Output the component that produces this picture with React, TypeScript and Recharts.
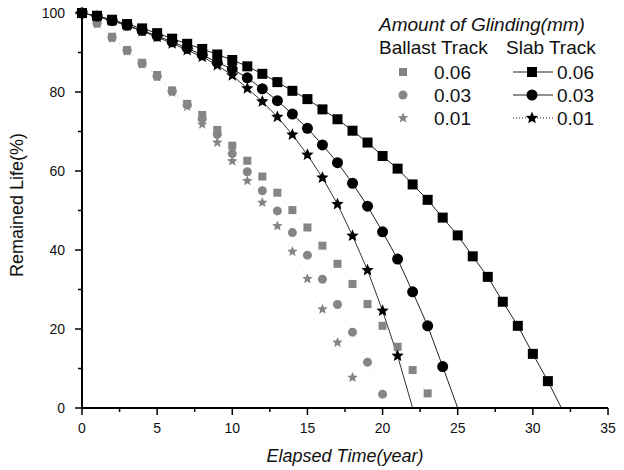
import { LineChart, Line, XAxis, YAxis } from "recharts";

// elapsed years (x) for each series
const slabYears06 = [0, 1, 2, 3, 4, 5, 6, 7, 8, 9, 10, 11, 12, 13, 14, 15, 16, 17, 18, 19, 20, 21, 22, 23, 24, 25, 26, 27, 28, 29, 30, 31];
const slabYears03 = [0, 1, 2, 3, 4, 5, 6, 7, 8, 9, 10, 11, 12, 13, 14, 15, 16, 17, 18, 19, 20, 21, 22, 23, 24];
const slabYears01 = [0, 1, 2, 3, 4, 5, 6, 7, 8, 9, 10, 11, 12, 13, 14, 15, 16, 17, 18, 19, 20, 21];
const ballastYears06 = [1, 2, 3, 4, 5, 6, 7, 8, 9, 10, 11, 12, 13, 14, 15, 16, 17, 18, 19, 20, 21, 22, 23];
const ballastYears03 = [1, 2, 3, 4, 5, 6, 7, 8, 9, 10, 11, 12, 13, 14, 15, 16, 17, 18, 19, 20];
const ballastYears01 = [1, 2, 3, 4, 5, 6, 7, 8, 9, 10, 11, 12, 13, 14, 15, 16, 17, 18];

// remained life (%)
const slab06 = [100, 99.3, 98.3, 97.2, 96.1, 94.9, 93.5, 92.2, 90.9, 89.5, 88.1, 86.5, 84.6, 82.5, 80.3, 78.2, 75.6, 73.1, 70.2, 67.2, 63.8, 60.6, 56.6, 52.7, 48.2, 43.7, 38.4, 33.2, 26.9, 20.8, 13.7, 6.8];
const slab03 = [100, 99.2, 98.1, 96.9, 95.6, 94.2, 92.7, 91.1, 89.4, 87.5, 85.8, 83.6, 80.8, 77.8, 74.4, 70.8, 66.6, 62.1, 56.9, 51.1, 44.6, 37.7, 29.4, 20.8, 10.5];
const slab01 = [100, 99.1, 98.0, 96.8, 95.4, 93.9, 92.3, 90.6, 88.9, 86.8, 84.2, 80.9, 77.6, 73.7, 69.2, 64.1, 58.3, 51.6, 43.6, 34.9, 24.6, 13.2];
const ballast06 = [97.6, 94.0, 90.6, 87.4, 84.3, 80.4, 77.0, 74.2, 70.4, 66.4, 62.6, 58.6, 54.5, 50.1, 45.7, 41.1, 36.5, 31.4, 26.3, 20.8, 15.5, 9.6, 3.7];
const ballast03 = [97.4, 93.8, 90.5, 87.2, 84.0, 80.2, 76.8, 73.2, 69.3, 64.4, 59.8, 55.0, 49.9, 44.4, 38.7, 32.6, 26.2, 19.2, 11.6, 3.5];
const ballast01 = [97.2, 93.6, 90.3, 87.0, 83.8, 79.9, 76.3, 71.8, 67.2, 62.5, 57.5, 52.0, 46.1, 39.6, 32.7, 25.0, 16.6, 7.7];

// where the slab fitted lines reach zero
const slabEnd06 = 31.9;
const slabEnd03 = 25.0;
const slabEnd01 = 22.0;

const xTicks = [0, 2.5, 5, 7.5, 10, 12.5, 15, 17.5, 20, 22.5, 25, 27.5, 30, 32.5, 35];
const yTicks = [0, 10, 20, 30, 40, 50, 60, 70, 80, 90, 100];

const FONT = '"Liberation Sans", Arial, Helvetica, sans-serif';

const toPoints = (xs: number[], ys: number[], end?: number) => {
  const pts: any[] = xs.map((x, i) => ({ x, y: ys[i] }));
  if (end !== undefined) pts.push({ x: end, y: 0, end: true });
  return pts;
};

const starPath = (cx: number, cy: number, r: number) => {
  const ri = r * 0.45;
  let d = "";
  for (let i = 0; i < 10; i++) {
    const rad = i % 2 === 0 ? r : ri;
    const a = -Math.PI / 2 + (i * Math.PI) / 5;
    d += (i === 0 ? "M" : "L") + (cx + rad * Math.cos(a)).toFixed(2) + "," + (cy + rad * Math.sin(a)).toFixed(2);
  }
  return d + "Z";
};

const Marker = ({ shape, cx, cy, fill, size }: any) => {
  if (shape === "square")
    return <rect x={cx - size / 2} y={cy - size / 2} width={size} height={size} fill={fill} />;
  if (shape === "circle") return <circle cx={cx} cy={cy} r={size / 2} fill={fill} />;
  return <path d={starPath(cx, cy, size / 2 + 1)} fill={fill} />;
};

const makeDot = (shape: string, fill: string, size: number) => (props: any) => {
  const { cx, cy, payload, index } = props;
  if (payload.end || cx == null) return <g key={index} />;
  return (
    <g key={index}>
      <Marker shape={shape} cx={cx} cy={cy} fill={fill} size={size} />
    </g>
  );
};

const XTick = ({ x, y, payload }: any) => {
  const major = payload.value % 5 === 0;
  return (
    <g>
      <line x1={x} y1={y} x2={x} y2={y + (major ? 7 : 4)} stroke="#000" strokeWidth={1.5} />
      {major && (
        <text x={x} y={y + 25} textAnchor="middle" fontSize={14} fontFamily={FONT} fill="#111">
          {payload.value}
        </text>
      )}
    </g>
  );
};

const YTick = ({ x, y, payload }: any) => {
  const major = payload.value % 20 === 0;
  return (
    <g>
      <line x1={x} y1={y} x2={x - (major ? 7 : 4)} y2={y} stroke="#000" strokeWidth={1.5} />
      {major && (
        <text x={x - 17} y={y + 5} textAnchor="end" fontSize={14} fontFamily={FONT} fill="#111">
          {payload.value}
        </text>
      )}
    </g>
  );
};

const GRAY = "#858585";

export default function App() {
  return (
    <div style={{ position: "absolute", left: 0, top: 0, width: 624, height: 470, background: "#fff" }}>
      <LineChart width={624} height={470} margin={{ top: 13, right: 16, bottom: 0, left: 0 }}>
        <XAxis
          dataKey="x"
          type="number"
          domain={[0, 35]}
          ticks={xTicks}
          interval={0}
          height={62}
          tickSize={0}
          tickMargin={0}
          tickLine={false}
          tick={<XTick />}
          axisLine={{ stroke: "#000", strokeWidth: 2 }}
          allowDuplicatedCategory={false}
        />
        <XAxis xAxisId="top" orientation="top" type="number" domain={[0, 35]} height={0} tick={false} tickLine={false} axisLine={{ stroke: "#000", strokeWidth: 1.5 }} />
        <YAxis
          dataKey="y"
          type="number"
          domain={[0, 100]}
          ticks={yTicks}
          interval={0}
          width={82}
          tickSize={0}
          tickMargin={0}
          tickLine={false}
          tick={<YTick />}
          axisLine={{ stroke: "#000", strokeWidth: 2 }}
        />
        <YAxis yAxisId="right" orientation="right" type="number" domain={[0, 100]} width={0} tick={false} tickLine={false} axisLine={{ stroke: "#000", strokeWidth: 1.5 }} />

        <Line data={toPoints(ballastYears06, ballast06)} dataKey="y" stroke="#d6d6d6" strokeWidth={0.8} strokeDasharray="1 5" dot={makeDot("square", GRAY, 8)} isAnimationActive={false} />
        <Line data={toPoints(ballastYears03, ballast03)} dataKey="y" stroke="#d6d6d6" strokeWidth={0.8} strokeDasharray="1 5" dot={makeDot("circle", GRAY, 9)} isAnimationActive={false} />
        <Line data={toPoints(ballastYears01, ballast01)} dataKey="y" stroke="#d6d6d6" strokeWidth={0.8} strokeDasharray="1 5" dot={makeDot("star", GRAY, 9)} isAnimationActive={false} />

        <Line data={toPoints(slabYears06, slab06, slabEnd06)} dataKey="y" stroke="#222" strokeWidth={1} dot={makeDot("square", "#000", 10)} isAnimationActive={false} />
        <Line data={toPoints(slabYears03, slab03, slabEnd03)} dataKey="y" stroke="#222" strokeWidth={1} dot={makeDot("circle", "#000", 11)} isAnimationActive={false} />
        <Line data={toPoints(slabYears01, slab01, slabEnd01)} dataKey="y" stroke="#333" strokeWidth={1} dot={makeDot("star", "#000", 11)} isAnimationActive={false} />
      </LineChart>

      <svg width={624} height={470} style={{ position: "absolute", left: 0, top: 0, pointerEvents: "none" }} fontFamily={FONT}>
        {/* axis titles */}
        <text x={345} y={462} textAnchor="middle" fontSize={18} fontStyle="italic" fill="#111">
          Elapsed Time(year)
        </text>
        <text x={23} y={205} textAnchor="middle" fontSize={18} fill="#111" transform="rotate(-90 23 205)">
          Remained Life(%)
        </text>

        {/* legend */}
        <text x={379} y={31} fontSize={19} fontStyle="italic" fill="#111">Amount of Glinding(mm)</text>
        <text x={379} y={54} fontSize={19} fill="#111">Ballast Track</text>
        <text x={506} y={54} fontSize={19} fill="#111">Slab Track</text>

        {[
          { shape: "square", label: "0.06", cy: 72, size: [8, 10], dash: undefined },
          { shape: "circle", label: "0.03", cy: 95, size: [9, 11], dash: undefined },
          { shape: "star", label: "0.01", cy: 118, size: [9, 11], dash: "1 2" },
        ].map((r) => (
          <g key={r.label}>
            <Marker shape={r.shape} cx={403} cy={r.cy} fill={GRAY} size={r.size[0]} />
            <text x={434} y={r.cy + 7} fontSize={19} fill="#111">{r.label}</text>
            <line x1={513} y1={r.cy} x2={553} y2={r.cy} stroke="#222" strokeWidth={1} strokeDasharray={r.dash} />
            <Marker shape={r.shape} cx={532} cy={r.cy} fill="#000" size={r.size[1]} />
            <text x={557} y={r.cy + 7} fontSize={19} fill="#111">{r.label}</text>
          </g>
        ))}
      </svg>
    </div>
  );
}
